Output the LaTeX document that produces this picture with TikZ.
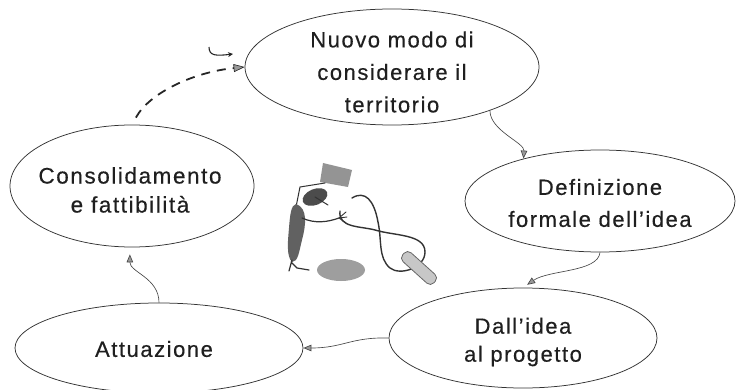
\documentclass[tikz,border=0pt]{standalone}
\usepackage{fontspec}
\setmainfont{Liberation Sans}[LetterSpace=7,FakeBold=0.4]
\usetikzlibrary{shapes.geometric,arrows.meta}

\begin{document}
\begin{tikzpicture}[x=1pt,y=-1pt,
  phase/.style={ellipse, draw=black!80, line width=0.75pt, inner sep=0pt},
  phasetext/.style={align=center, inner sep=0pt, text=black!88},
  flow/.style={draw=black!72, line width=0.65pt,
    -{Triangle[length=8pt,width=6.5pt,fill=black!40]}},
  loopback/.style={draw=black!85, line width=1.8pt, dash pattern=on 9pt off 7pt,
    -{Triangle[length=11pt,width=8pt,fill=black!40,line width=0.6pt]}},
  ink/.style={draw=black!80, line width=1.2pt, line cap=round, line join=round}]
\useasboundingbox (0,0) rectangle (738,390);

% the five phases of the cycle
\node[phase, minimum width=294pt, minimum height=116pt] (nuovo) at (392,67) {};
\node[phasetext, font=\fontsize{22}{32.5}\selectfont] (nuovo-t) at (392,72)
  {Nuovo modo di\\considerare il\\territorio};

\node[phase, minimum width=270pt, minimum height=102pt] (defin) at (600,201) {};
\node[phasetext, font=\fontsize{22}{32}\selectfont] (defin-t) at (600,203)
  {Definizione\\formale dell’idea};

\node[phase, minimum width=268pt, minimum height=100pt] (proj) at (523,338) {};
\node[phasetext, font=\fontsize{22}{28}\selectfont] (proj-t) at (523,342)
  {Dall’idea\\al progetto};

\node[phase, minimum width=288pt, minimum height=90pt] (attu) at (159,348) {};
\node[phasetext, font=\fontsize{22}{28}\selectfont] (attu-t) at (154,349)
  {Attuazione};

\node[phase, minimum width=244pt, minimum height=122pt] (cons) at (132,186) {};
\node[phasetext, font=\fontsize{22.5}{29}\selectfont] (cons-t) at (130,190)
  {Consolidamento\\e fattibilità};

% connectors between the phases
\draw[flow] (nuovo.-24) .. controls +(0,20) and +(1,-16) .. (defin.151);
\draw[flow, shorten >=5pt] (defin.-90) .. controls +(-2,20) and +(26,-18) .. (proj.90);
\draw[flow] (proj.west) .. controls +(-38,-1) and +(40,0) .. (attu.east);
\draw[flow, shorten >=7pt] (attu.north) .. controls +(0,-25) and +(0,25) .. (cons.-92);
\draw[loopback, shorten <=8pt] (cons.north) .. controls (150,92) and (195,72) .. (nuovo.west);

% small hooked arrow beside the loop-back
\coordinate (hookA) at (209,47);
\coordinate (hookB) at (233,54);
\draw[draw=black!85, line width=1.1pt, -{Stealth[length=5pt,width=5pt]}]
  (hookA) .. controls (209,56) and (216,56) .. (hookB);

% drawing of a figure at work in the middle
\fill[black!42] (323,163) -- (352,170) -- (348,187) -- (320,182) -- cycle;
\draw[ink, line width=1pt] (296,207) -- (300,187) -- (325,183);
\fill[black!70, rotate around={22:(315,197)}] (315,197) ellipse (13 and 8);
\draw[ink, line width=1pt] (315,197) -- (328,205);
\fill[black!62] (296,204) .. controls (308,208) and (306,225) .. (302,240)
  .. controls (299,252) and (298,262) .. (292,262)
  .. controls (286,256) and (288,240) .. (289,228)
  .. controls (290,215) and (291,205) .. cycle;
\draw[ink] (302,218) .. controls (315,224) and (328,222) .. (339,218);
\draw[ink, line width=0.9pt] (339,218) -- (346,212) (339,218) -- (347,217)
  (339,218) -- (346,223);
\draw[ink] (292,260) -- (289,271) (291,262) -- (297,268) -- (309,270);
\draw[ink, line width=1.4pt] (340,211) .. controls (338,228) and (360,226) .. (375,230)
  .. controls (395,236) and (425,234) .. (425,252)
  .. controls (425,268) and (400,276) .. (390,268)
  .. controls (378,258) and (382,240) .. (378,222)
  .. controls (374,200) and (365,190) .. (352,198);
\fill[black!38] (341,270) ellipse (24 and 11);
\draw[black!60, fill=black!22, line width=0.8pt, rounded corners=5pt,
  rotate around={-42:(419,268)}] (398,262) rectangle (440,274);
\end{tikzpicture}
\end{document}
